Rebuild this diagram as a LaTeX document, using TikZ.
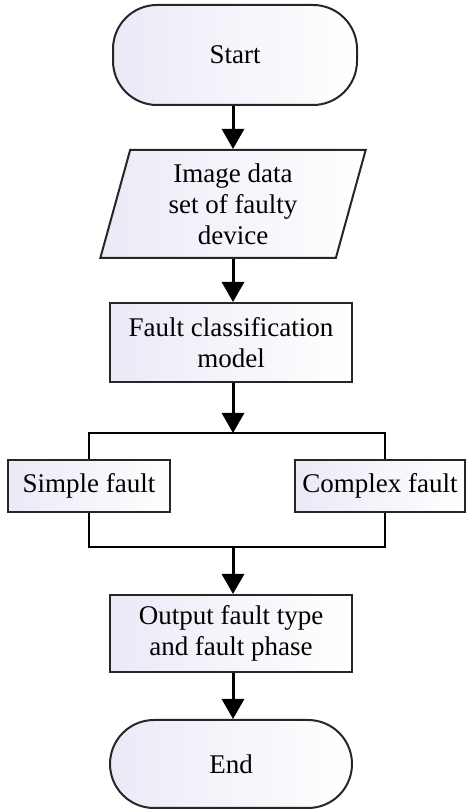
\documentclass[tikz,border=0pt]{standalone}
\usepackage{fontspec}
\setmainfont{Liberation Serif}
\usetikzlibrary{arrows.meta}
\usetikzlibrary{shapes.geometric}
\definecolor{boxtint}{RGB}{234,234,247}
\tikzset{>={Triangle[length=20pt,width=22pt]}}
\tikzstyle{box} = [%
					draw = black!85,
					line width = 2pt,
					left color = boxtint, right color = white,
					font = \fontsize{27}{31}\selectfont,
					align = center, inner sep = 0pt
					]

\begin{document}
\begin{tikzpicture}[x=1pt,y=1pt]
    % Define style for the terminals, the data block and the links
    \tikzstyle{term} = [box, rounded corners=44pt]
    \tikzstyle{link} = [line width=3pt,->]

    % Layout parameters (in px of the picture)
    \def\midx      {233}               % axis of the main column
    \def\boxw      {242}               % width of the process boxes
    \def\splity    {379}               % height of the split line
    \def\mergey    {265}               % height of the merge line

    \useasboundingbox (0,0) rectangle (470,812);

    % Draw the main column
    \node[term, minimum width=244, minimum height=100] (start) at (235,757) {Start};
    \node[box, trapezium, trapezium left angle=77, trapezium right angle=103,
          trapezium stretches=true, minimum width=266, minimum height=108] (data)
          at (\midx,608) {Image data\\set of faulty\\device};
    \node[box, minimum width=\boxw, minimum height=79] (model) at (231,469.5)
          {Fault classification\\model};

    % the two fault classes
    \node[box, minimum width=162, minimum height=52] (simple) at (89,326) {Simple fault};
    \node[box, minimum width=170, minimum height=52] (complex) at (380,326) {Complex fault};

    \node[box, minimum width=\boxw, minimum height=77] (output) at (231,178.5)
          {Output fault type\\and fault phase};
    \node[term, minimum width=\boxw, minimum height=88] (end) at (231,48) {End};

    \coordinate (split) at (\midx,\splity);
    \coordinate (merge) at (\midx,\mergey);

    % draw the links
    \draw[link] (start.south -| split) -- (data.north -| split);
    \draw[link] (data.south -| split) -- (model.north -| split);
    \draw[link] (model.south -| split) -- (split);
    \draw[line width=2pt] (simple.north) |- (split) -| ([xshift=5pt]complex.north);
    \draw[line width=2pt] (simple.south) |- (merge) -| ([xshift=5pt]complex.south);
    \draw[link] (merge) -- (output.north -| merge);
    \draw[link] (output.south -| merge) -- (end.north -| merge);

\end{tikzpicture}
\end{document}
